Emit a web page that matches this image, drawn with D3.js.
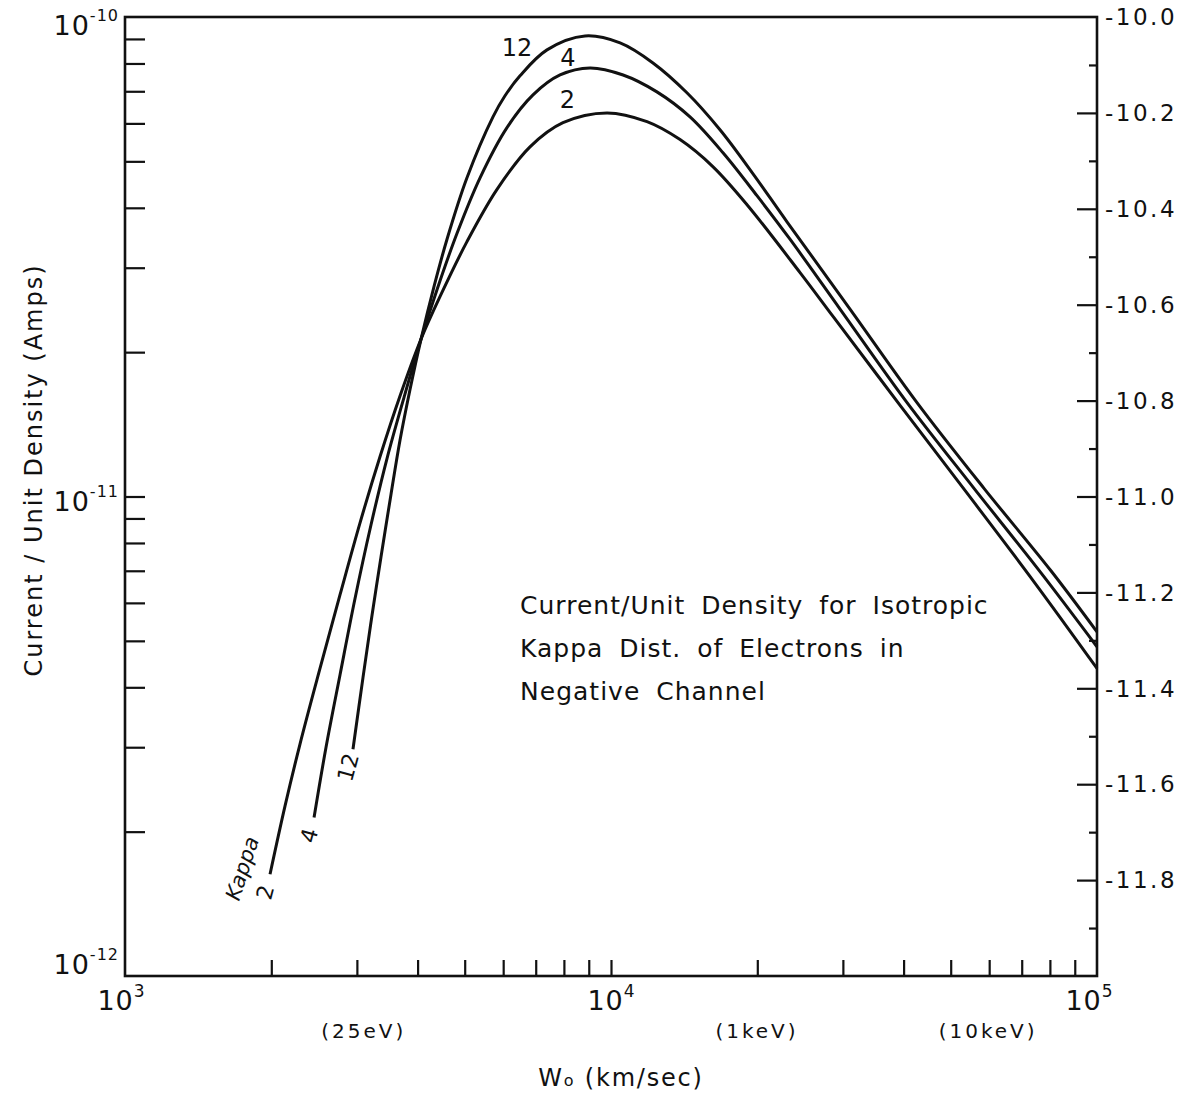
<!DOCTYPE html>
<html><head><meta charset="utf-8">
<script src="https://cdn.jsdelivr.net/npm/d3@7"></script>
<style>
body{margin:0;background:#fff}
svg{display:block}
text{font-family:"DejaVu Sans",sans-serif;fill:#111}
</style>
</head><body>
<svg id="chart" width="1184" height="1094"></svg>
<script>
// ---- data ----
const kappaValues = ["2", "4", "12"];

const speedK2 = [1988, 2134, 2292, 2519, 2770, 3045, 3347, 3680, 4066, 4447, 5054, 5827, 6813, 7965, 9813, 11860, 13870, 16220, 19050, 24490, 28760, 39520, 54280, 74200, 100000];
const currentK2 = [1.63e-12, 2.26e-12, 3.05e-12, 4.38e-12, 6.24e-12, 8.81e-12, 1.21e-11, 1.62e-11, 2.13e-11, 2.61e-11, 3.40e-11, 4.37e-11, 5.36e-11, 6.02e-11, 6.31e-11, 6.05e-11, 5.55e-11, 4.87e-11, 4.06e-11, 2.93e-11, 2.36e-11, 1.54e-11, 1.01e-11, 6.64e-12, 4.38e-12];

const speedK4 = [2449, 2592, 2770, 2973, 3207, 3460, 3751, 4066, 4385, 4822, 5377, 6109, 6911, 7855, 9054, 10590, 12430, 14540, 17000, 19970, 23350, 29600, 40660, 55840, 76700, 100000];
const currentK4 = [2.14e-12, 3.00e-12, 4.25e-12, 6.12e-12, 8.72e-12, 1.20e-11, 1.61e-11, 2.13e-11, 2.70e-11, 3.54e-11, 4.62e-11, 5.88e-11, 6.88e-11, 7.57e-11, 7.83e-11, 7.57e-11, 6.98e-11, 6.19e-11, 5.21e-11, 4.24e-11, 3.44e-11, 2.46e-11, 1.57e-11, 1.04e-11, 6.93e-12, 4.86e-12];

const speedK12 = [2945, 3088, 3222, 3363, 3526, 3680, 3858, 4066, 4323, 4598, 5054, 5717, 6052, 6498, 7384, 8842, 10440, 12200, 14330, 16760, 19600, 23020, 31030, 42620, 58540, 80400, 100000];
const currentK12 = [2.97e-12, 4.19e-12, 5.64e-12, 7.48e-12, 1.01e-11, 1.31e-11, 1.67e-11, 2.13e-11, 2.74e-11, 3.44e-11, 4.62e-11, 6.19e-11, 6.85e-11, 7.54e-11, 8.54e-11, 9.13e-11, 8.83e-11, 8.02e-11, 6.95e-11, 5.82e-11, 4.71e-11, 3.74e-11, 2.46e-11, 1.57e-11, 1.04e-11, 7.00e-12, 5.22e-12];

const leftTickExponents = [-10, -11, -12];
const bottomTickExponents = [3, 4, 5];
const rightTickLabels = ["-10.0", "-10.2", "-10.4", "-10.6", "-10.8", "-11.0", "-11.2", "-11.4", "-11.6", "-11.8"];
const energyLabels = ["(25eV)", "(1keV)", "(10keV)"];
const energySpeeds = [3100, 19970, 59700];
const noteLines = ["Current/Unit Density for Isotropic", "Kappa Dist. of Electrons in", "Negative Channel"];
const yTitle = "Current / Unit Density (Amps)";
const kappaWord = "Kappa";
const peakLabelSpeeds = {"12": 6408, "4": 8156, "2": 8135};
const peakLabelCurrents = {"12": 8.66e-11, "4": 8.22e-11, "2": 6.72e-11};

// ---- layout ----
const L = 125, R = 1097, T = 17, B = 976;
const svg = d3.select("#chart");
svg.append("rect").attr("width", 1184).attr("height", 1094).attr("fill", "#fff");

const x = d3.scaleLog().domain([1e3, 1e5]).range([L, R]);
const y = d3.scaleLog().domain([1e-12, 1e-10]).range([B, T]);
const yR = d3.scaleLinear().domain([-12, -10]).range([B, T]);

const ink = "#111";

// frame
svg.append("rect").attr("x", L).attr("y", T).attr("width", R - L).attr("height", B - T)
  .attr("fill", "none").attr("stroke", ink).attr("stroke-width", 2.6);

// left ticks (inward)
const leftTicks = [];
[-12, -11].forEach(e => { for (let m = 1; m <= 9; m++) leftTicks.push(m * Math.pow(10, e)); });
const gl = svg.append("g").attr("transform", `translate(${L},0)`)
  .call(d3.axisRight(y).tickValues(leftTicks.filter(v => v > 1.01e-12)).tickSize(20).tickFormat(""));
gl.select(".domain").remove();
gl.selectAll("line").attr("stroke", ink).attr("stroke-width", 2.2);

// bottom ticks (inward)
const bottomTicks = [];
[3, 4].forEach(e => { for (let m = 1; m <= 9; m++) bottomTicks.push(m * Math.pow(10, e)); });
const gb = svg.append("g").attr("transform", `translate(0,${B})`)
  .call(d3.axisTop(x).tickValues(bottomTicks.filter(v => v > 1.01e3)).tickSize(16).tickFormat(""));
gb.select(".domain").remove();
gb.selectAll("line").attr("stroke", ink).attr("stroke-width", 2.2);

// right ticks (inward), major every 0.2, minor every 0.1
const rightMajor = d3.range(1, 10).map(i => -10 - i * 0.2);
const rightMinor = d3.range(0, 10).map(i => -10.1 - i * 0.2);
const grM = svg.append("g").attr("transform", `translate(${R},0)`)
  .call(d3.axisLeft(yR).tickValues(rightMajor).tickSize(20).tickFormat(""));
const grm = svg.append("g").attr("transform", `translate(${R},0)`)
  .call(d3.axisLeft(yR).tickValues(rightMinor).tickSize(8).tickFormat(""));
[grM, grm].forEach(g => { g.select(".domain").remove(); g.selectAll("line").attr("stroke", ink).attr("stroke-width", 2.2); });

// right labels
svg.append("g").selectAll("text").data(rightTickLabels).join("text")
  .attr("x", R + 8).attr("y", d => yR(+d)).attr("dy", "0.36em")
  .attr("font-size", 23).attr("letter-spacing", 2.5).text(d => d);

// left labels 10^e
const leftOffsets = {"-10": 18, "-11": 14, "-12": -2};
leftTickExponents.forEach(e => {
  const t = svg.append("text").attr("x", L - 6).attr("y", y(Math.pow(10, e)) + leftOffsets[e])
    .attr("text-anchor", "end").attr("font-size", 27);
  t.append("tspan").attr("letter-spacing", 1).text("10");
  t.append("tspan").attr("font-size", 16).attr("dy", -14).attr("letter-spacing", 1).text(String(e));
});

// bottom labels 10^e
bottomTickExponents.forEach(e => {
  const xc = x(Math.pow(10, e)) + (e === 5 ? -8 : (e === 3 ? -4 : 0));
  const t = svg.append("text").attr("x", xc).attr("y", B + 34).attr("text-anchor", "middle").attr("font-size", 27);
  t.append("tspan").attr("letter-spacing", 1).text("10");
  t.append("tspan").attr("font-size", 17).attr("dy", -13).text(e);
});

// energy labels
svg.append("g").selectAll("text").data(energyLabels).join("text")
  .attr("x", (d, i) => x(energySpeeds[i])).attr("y", B + 62)
  .attr("text-anchor", "middle").attr("font-size", 20).attr("letter-spacing", 3)
  .text(d => d);

// x title W_o (km/sec)
const xt = svg.append("text").attr("x", x(1e4) + 10).attr("y", B + 110).attr("text-anchor", "middle")
  .attr("font-size", 24).attr("letter-spacing", 1.8);
xt.append("tspan").text("W");
xt.append("tspan").attr("font-size", 16).text("o");
xt.append("tspan").text(" (km/sec)");

// y title
svg.append("text").attr("transform", `translate(42,470) rotate(-90)`)
  .attr("text-anchor", "middle").attr("font-size", 24).attr("letter-spacing", 2).text(yTitle);

// note
svg.append("g").selectAll("text").data(noteLines).join("text")
  .attr("x", x(6500)).attr("y", (d, i) => y(5.69e-12) + i * 43)
  .attr("font-size", 25).attr("letter-spacing", 1).attr("word-spacing", 7).text(d => d);

// curves
const series = [
  {k: "2", sx: speedK2, sy: currentK2},
  {k: "4", sx: speedK4, sy: currentK4},
  {k: "12", sx: speedK12, sy: currentK12}
];
const line = d3.line().x(d => x(d[0])).y(d => y(d[1])).curve(d3.curveCatmullRom.alpha(0.5));
svg.append("g").selectAll("path").data(series).join("path")
  .attr("d", s => line(s.sx.map((v, i) => [v, s.sy[i]])))
  .attr("fill", "none").attr("stroke", ink).attr("stroke-width", 3).attr("stroke-linejoin", "round");

// peak labels
kappaValues.forEach(k => {
  svg.append("text").attr("x", x(peakLabelSpeeds[k])).attr("y", y(peakLabelCurrents[k]))
    .attr("text-anchor", "middle").attr("font-size", 24).attr("dy", "0.36em").text(k);
});

// rotated end labels
series.forEach(s => {
  const px = x(s.sx[0]) - 5, py = y(s.sy[0]) + 18;
  svg.append("text").attr("transform", `translate(${px},${py}) rotate(-75)`)
    .attr("text-anchor", "middle").attr("dy", "0.35em").attr("font-size", 22).text(s.k);
});
svg.append("text").attr("transform", `translate(${x(speedK2[0]) - 28},${y(currentK2[0]) - 6}) rotate(-72)`)
  .attr("text-anchor", "middle").attr("dy", "0.35em").attr("font-size", 21).attr("font-style", "italic").text(kappaWord);
</script>
</body></html>
